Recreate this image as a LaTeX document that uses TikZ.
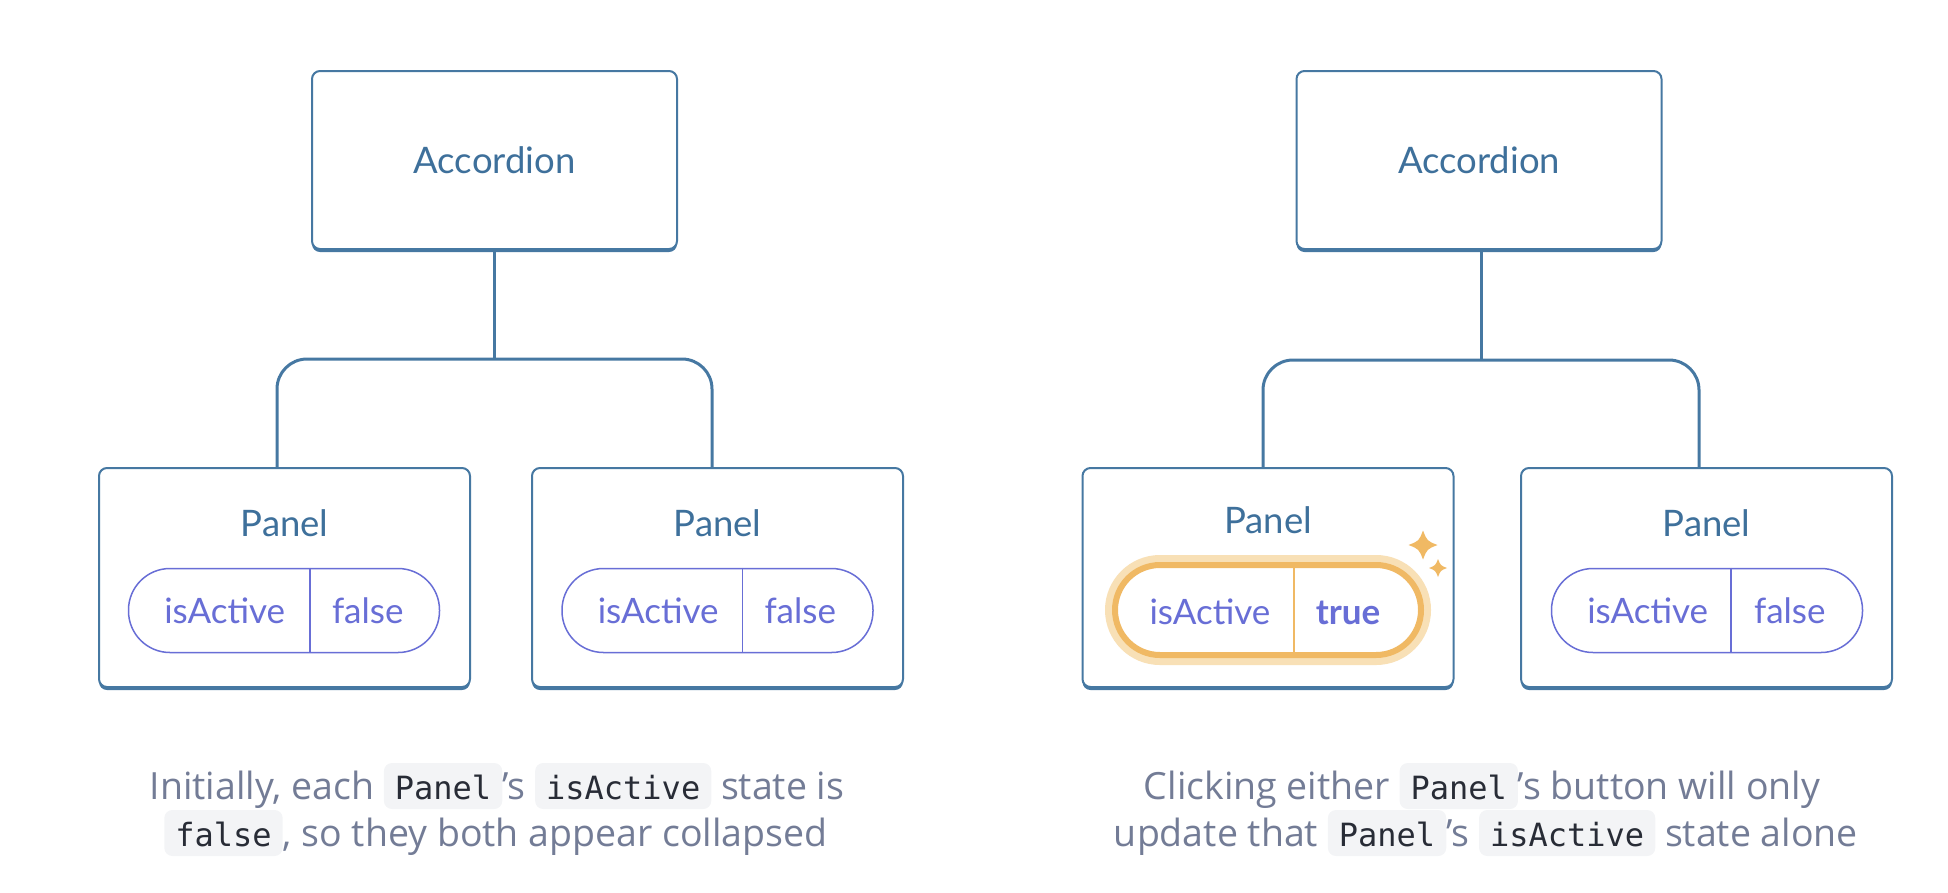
\documentclass[tikz,border=0pt]{standalone}
\usepackage{fontspec}
\setmainfont{Lato}
\newfontfamily\capfont{Open Sans}
\newfontfamily\codefont{DejaVu Sans Mono}
\usetikzlibrary{shadows}
\definecolor{boxblue}{RGB}{70,120,162}
\definecolor{lblblue}{RGB}{62,112,155}
\definecolor{pillblue}{RGB}{104,110,214}
\definecolor{orangeS}{RGB}{240,185,100}
\definecolor{orangeG}{RGB}{248,224,182}
\definecolor{capgray}{RGB}{115,124,150}
\definecolor{codebg}{RGB}{243,244,246}
\definecolor{codefg}{RGB}{40,44,54}
\tikzset{
  compbox/.style={draw=boxblue, line width=2pt, fill=white, rounded corners=8pt,
    general shadow={fill=boxblue, shadow yshift=-3pt}, inner sep=0pt},
  accbox/.style={compbox, minimum width=365pt, minimum height=178pt},
  panbox/.style={compbox, minimum width=371pt, minimum height=219pt},
  lbl/.style={text=lblblue, font=\fontsize{36.5}{40}\selectfont, anchor=base, inner sep=0pt},
  pill/.style={draw=pillblue, line width=1.5pt, rounded corners=41.5pt, fill=white,
    minimum width=311pt, minimum height=84pt, inner sep=0pt},
  pilldiv/.style={draw=pillblue, line width=1.5pt},
  pilltxt/.style={text=pillblue, font=\fontsize{35}{38}\selectfont, anchor=base, inner sep=0pt},
  conn/.style={draw=boxblue, line width=3pt, rounded corners=30pt},
  captxt/.style={text=capgray, font=\capfont\fontsize{37.5}{47}\selectfont, anchor=base, inner sep=0pt},
  codebox/.style={fill=codebg, draw=none, rounded corners=8pt, anchor=center,
    inner xsep=11pt, inner ysep=5pt, text height=31pt, text depth=5pt, text=codefg},
  sparkle/.pic={\fill[orangeS] (0,-1) .. controls (0.28,-0.28) .. (1,0)
      .. controls (0.28,0.28) .. (0,1) .. controls (-0.28,0.28) .. (-1,0)
      .. controls (-0.28,-0.28) .. cycle;}
}
\newcommand\codebx[1]{\tikz[baseline=(cbx.base)]\node[codebox](cbx){\codefont\fontsize{32}{36}\selectfont #1};}
\begin{document}
\begin{tikzpicture}[x=1pt,y=-1pt]
\useasboundingbox (0,0) rectangle (1948,892);

% ---------- left tree ----------
\node[accbox] (accL) at (494.5,160) {};
\node[lbl] (accLt) at (494.5,173) {Accordion};
\node[panbox] (panL1) at (284.5,577.5) {};
\node[panbox] (panL2) at (717.5,577.5) {};
\node[lbl] (panL1t) at (284.5,536) {Panel};
\node[lbl] (panL2t) at (717.5,536) {Panel};
\node[pill] (pillL1) at (284,610.5) {};
\node[pill] (pillL2) at (717.5,610.5) {};
\draw[pilldiv] ([xshift=182pt]pillL1.north west) -- ([xshift=182pt]pillL1.south west);
\draw[pilldiv] ([xshift=181pt]pillL2.north west) -- ([xshift=181pt]pillL2.south west);
\node[pilltxt] (iaL1) at ([xshift=97pt,yshift=-12.5pt]pillL1.west) {isActive};
\node[pilltxt] (vL1) at ([xshift=240pt,yshift=-12.5pt]pillL1.west) {false};
\node[pilltxt] (iaL2) at ([xshift=97pt,yshift=-12.5pt]pillL2.west) {isActive};
\node[pilltxt] (vL2) at ([xshift=239pt,yshift=-12.5pt]pillL2.west) {false};
\coordinate (jL) at (494.5,359);
\draw[conn] (accL.south) -- (jL);
\draw[conn] ([xshift=-7.5pt]panL1.north) |- (jL) -| ([xshift=-5.5pt]panL2.north);

% ---------- right tree ----------
\node[accbox] (accR) at (1479,160) {};
\node[lbl] (accRt) at (1479,173) {Accordion};
\node[panbox] (panR1) at (1268,577.5) {};
\node[panbox] (panR2) at (1706.5,577.5) {};
\node[lbl] (panR1t) at (1268,533) {Panel};
\node[lbl] (panR2t) at (1706.5,536) {Panel};
% highlighted pill
\node[draw=orangeG, line width=20pt, rounded corners=45pt, minimum width=306pt,
  minimum height=90pt, inner sep=0pt] (glowR1) at (1268,610) {};
\node[draw=orangeS, line width=6pt, fill=white, rounded corners=45pt, minimum width=306pt,
  minimum height=90pt, inner sep=0pt] (pillR1) at (1268,610) {};
\draw[draw=orangeS, line width=1.5pt] ([xshift=182pt,yshift=-3pt]pillR1.north west) -- ([xshift=182pt,yshift=3pt]pillR1.south west);
\node[pilltxt] (iaR1) at ([xshift=98pt,yshift=-14pt]pillR1.west) {isActive};
\node[pilltxt, font=\fontsize{35}{38}\selectfont\bfseries] (vR1) at ([xshift=236pt,yshift=-14pt]pillR1.west) {true};
\pic[scale=14.5] (spk1) at (1423,545) {sparkle};
\pic[scale=9] (spk2) at (1438,568) {sparkle};
\node[pill] (pillR2) at (1707,610.5) {};
\draw[pilldiv] ([xshift=180pt]pillR2.north west) -- ([xshift=180pt]pillR2.south west);
\node[pilltxt] (iaR2) at ([xshift=97pt,yshift=-12.5pt]pillR2.west) {isActive};
\node[pilltxt] (vR2) at ([xshift=239pt,yshift=-12.5pt]pillR2.west) {false};
\coordinate (jR) at (1481,360);
\draw[conn] ([xshift=2pt]accR.south) -- (jR);
\draw[conn] ([xshift=-5pt]panR1.north) |- (jR) -| ([xshift=-7.5pt]panR2.north);

% ---------- captions ----------
\node[captxt] (capL1) at (497,799) {Initially, each \codebx{Panel}’s \codebx{isActive} state is};
\node[captxt] (capL2) at (496,846) {\codebx{false}, so they both appear collapsed};
\node[captxt] (capR1) at (1482,799) {Clicking either \codebx{Panel}’s button will only};
\node[captxt] (capR2) at (1486,846) {update that \codebx{Panel}’s \codebx{isActive} state alone};
\end{tikzpicture}
\end{document}
